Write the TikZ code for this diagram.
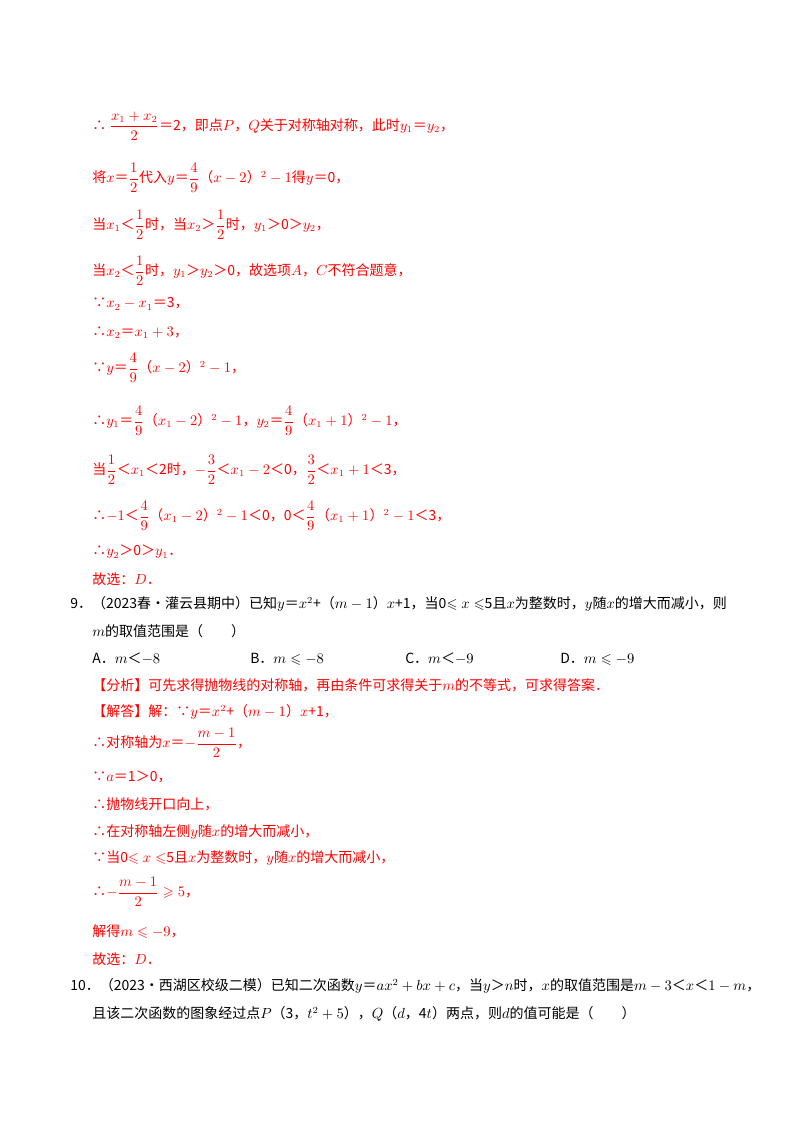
\documentclass[tikz,border=0pt]{standalone}
\usepackage{amsmath,amssymb}
\usepackage{fontspec}
\setmainfont{Noto Sans CJK SC}
\usepackage{tikz}
\usepackage{xcolor}
\definecolor{ansred}{RGB}{255,0,0}
\tikzset{redline/.style={anchor=west,text=ansred,inner sep=0pt,font=\fontsize{10.5}{12}\selectfont},
  blackline/.style={anchor=west,text=black,inner sep=0pt,font=\fontsize{10.5}{12}\selectfont}}
\begin{document}
\begin{tikzpicture}[x=0.75pt,y=0.75pt,yscale=-1,xscale=1]
\useasboundingbox[fill=white] (0,0) rectangle (800,1132);

% solution of question 8
\node[redline] (s1) at (92,126) {∴ $\dfrac{x_1+x_2}{2}$＝2，即点$P$，$Q$关于对称轴对称，此时$y_1$＝$y_2$，};
\node[redline] (s2) at (92,178) {将$x$＝$\dfrac{1}{2}$代入$y$＝$\dfrac{4}{9}$（$x-2$）$^2-1$得$y$＝0，};
\node[redline] (s3) at (92,225) {当$x_1$＜$\dfrac{1}{2}$时，当$x_2$＞$\dfrac{1}{2}$时，$y_1$＞0＞$y_2$，};
\node[redline] (s4) at (92,271) {当$x_2$＜$\dfrac{1}{2}$时，$y_1$＞$y_2$＞0，故选项$A$，$C$不符合题意，};
\node[redline] (s5) at (92,304) {∵$x_2-x_1$＝3，};
\node[redline] (s6) at (92,333) {∴$x_2$＝$x_1+3$，};
\node[redline] (s7) at (92,368) {∵$y$＝$\dfrac{4}{9}$（$x-2$）$^2-1$，};
\node[redline] (s8) at (92,421) {∴$y_1$＝$\dfrac{4}{9}$（$x_1-2$）$^2-1$，$y_2$＝$\dfrac{4}{9}$（$x_1+1$）$^2-1$，};
\node[redline] (s9) at (92,470) {当$\dfrac{1}{2}$＜$x_1$＜2时，$-\dfrac{3}{2}$＜$x_1-2$＜0，$\dfrac{3}{2}$＜$x_1+1$＜3，};
\node[redline] (s10) at (92,516) {∴$-1$＜$\dfrac{4}{9}$（$x_1-2$）$^2-1$＜0，0＜$\dfrac{4}{9}$（$x_1+1$）$^2-1$＜3，};
\node[redline] (s11) at (92,552) {∴$y_2$＞0＞$y_1$．};
\node[redline] (s12) at (92,579) {故选：$D$．};

% question 9
\node[blackline] (q9a) at (70,604) {9．（2023春•灌云县期中）已知$y$＝$x^2$+（$m-1$）$x$+1，当0$\leqslant x\leqslant$5且$x$为整数时，$y$随$x$的增大而减小，则};
\node[blackline] (q9b) at (92,631) {$m$的取值范围是（\quad\quad）};
\node[blackline] (optA) at (92,659) {A．$m$＜$-8$};
\node[blackline] (optB) at (250,659) {B．$m\leqslant-8$};
\node[blackline] (optC) at (405,659) {C．$m$＜$-9$};
\node[blackline] (optD) at (560,659) {D．$m\leqslant-9$};
\node[redline] (t1) at (92,685) {【分析】可先求得抛物线的对称轴，再由条件可求得关于$m$的不等式，可求得答案．};
\node[redline] (t2) at (92,712) {【解答】解：∵$y$＝$x^2$+（$m-1$）$x$+1，};
\node[redline] (t3) at (92,743) {∴对称轴为$x$＝$-\dfrac{m-1}{2}$，};
\node[redline] (t4) at (92,777) {∵$a$＝1＞0，};
\node[redline] (t5) at (92,804) {∴抛物线开口向上，};
\node[redline] (t6) at (92,832) {∴在对称轴左侧$y$随$x$的增大而减小，};
\node[redline] (t7) at (92,858) {∵当0$\leqslant x\leqslant$5且$x$为整数时，$y$随$x$的增大而减小，};
\node[redline] (t8) at (92,892) {∴$-\dfrac{m-1}{2}\geqslant5$，};
\node[redline] (t9) at (92,932) {解得$m\leqslant-9$，};
\node[redline] (t10) at (92,959) {故选：$D$．};

% question 10
\node[blackline] (q10a) at (70,986) {10．（2023•西湖区校级二模）已知二次函数$y$＝$ax^2+bx+c$，当$y$＞$n$时，$x$的取值范围是$m-3$＜$x$＜$1-m$，};
\node[blackline] (q10b) at (92,1014) {且该二次函数的图象经过点$P$（3，$t^2+5$），$Q$（$d$，4$t$）两点，则$d$的值可能是（\quad\quad）};
\end{tikzpicture}
\end{document}
